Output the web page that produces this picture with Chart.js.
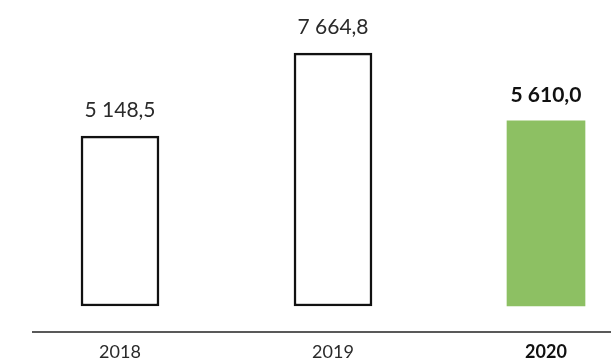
<!DOCTYPE html>
<html>
<head>
<meta charset="utf-8">
<script src="https://cdn.jsdelivr.net/npm/chart.js@4/dist/chart.umd.min.js"></script>
<style>
  html, body { margin: 0; padding: 0; background: #fff; }
  canvas { display: block; }
</style>
</head>
<body>
<canvas id="revenueChart" width="611" height="361"></canvas>
<script>
// values
var years = ['2018', '2019', '2020'];
var amounts = [5148.5, 7664.8, 5610.0];
var amountLabels = ['5 148,5', '7 664,8', '5 610,0'];
var highlightIndex = 2;

var fontFamily = 'Lato, "Noto Sans", sans-serif';
var textColor = '#2a2a2a';

// draws the value above each bar and the long base line
var overlayPlugin = {
    id: 'overlay',
    afterDraw: function (chart) {
        var ctx = chart.ctx;
        var area = chart.chartArea;
        ctx.save();
        ctx.strokeStyle = '#222';
        ctx.lineWidth = 1.5;
        ctx.beginPath();
        ctx.moveTo(32, area.bottom);
        ctx.lineTo(chart.width, area.bottom);
        ctx.stroke();

        var meta = chart.getDatasetMeta(0);
        ctx.textAlign = 'center';
        ctx.textBaseline = 'alphabetic';
        meta.data.forEach(function (bar, i) {
            var hl = i === highlightIndex;
            ctx.fillStyle = hl ? '#111' : textColor;
            ctx.font = (hl ? 'bold ' : '') + '21px ' + fontFamily;
            ctx.fillText(amountLabels[i], bar.x, bar.y - 19);
        });
        ctx.restore();
    }
};

var ctx = document.getElementById('revenueChart').getContext('2d');
new Chart(ctx, {
    type: 'bar',
    data: {
        labels: years,
        datasets: [{
            data: amounts,
            backgroundColor: years.map(function (y, i) { return i === highlightIndex ? '#8dc063' : '#ffffff'; }),
            borderColor: '#111',
            borderWidth: years.map(function (y, i) { return i === highlightIndex ? 0 : 2.5; }),
            borderSkipped: false,
            barThickness: 78,
            clip: false
        }]
    },
    options: {
        responsive: false,
        animation: false,
        layout: {
            padding: { top: 9, left: 120, right: 65, bottom: 0 }
        },
        plugins: {
            legend: { display: false },
            tooltip: { enabled: false }
        },
        scales: {
            x: {
                offset: false,
                grid: { display: false, drawTicks: false },
                border: { display: false },
                afterFit: function (scale) { scale.height = 29; },
                ticks: {
                    padding: 9,
                    color: function (c) { return c.index === highlightIndex ? '#111' : textColor; },
                    font: function (c) {
                        return {
                            family: fontFamily,
                            size: 18,
                            weight: c.index === highlightIndex ? 'bold' : 'normal'
                        };
                    }
                }
            },
            y: {
                display: false,
                min: -788,
                max: 9000
            }
        }
    },
    plugins: [overlayPlugin]
});
</script>
</body>
</html>
